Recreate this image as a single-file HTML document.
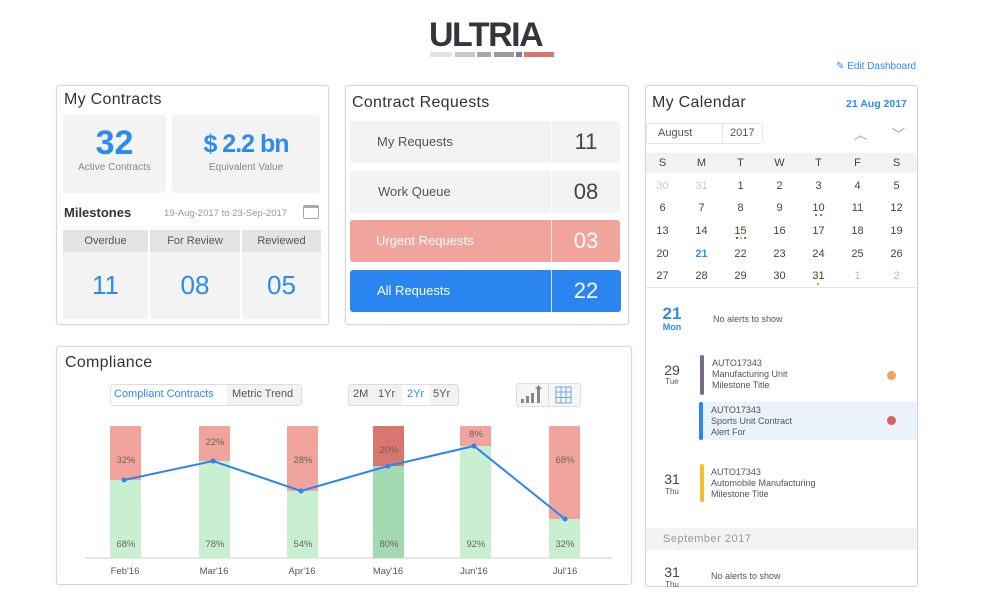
<!DOCTYPE html>
<html><head><meta charset="utf-8"><style>
*{box-sizing:border-box;margin:0;padding:0}
body{width:984px;height:608px;background:#fff;position:relative;font-family:"Liberation Sans",sans-serif;color:#444;overflow:hidden}
.a{position:absolute}
.panel{position:absolute;border:1px solid #d4d6da;border-radius:3px;background:#fff;box-shadow:0 0 2px rgba(0,0,0,.08)}
.t{position:absolute;font-size:16px;color:#333;letter-spacing:.3px}
.tile{position:absolute;background:#f3f3f3;border-radius:3px}
.c{text-align:center}
.blue{color:#2b8cf0}
.cal td{text-align:center;font-size:11px;color:#444;height:22.6px;width:39px;padding:0}
.small{font-size:9px;color:#555;line-height:11px}
</style></head><body>

<div class="a" style="left:429px;top:18px;font-size:34px;font-weight:bold;color:#33363d;letter-spacing:-1.5px;line-height:34px">ULTRIA</div>
<div class="a" style="left:430px;top:52px;width:22px;height:5px;background:#e3e3e3"></div>
<div class="a" style="left:455px;top:52px;width:20px;height:5px;background:#c8c8c8"></div>
<div class="a" style="left:477px;top:52px;width:14px;height:5px;background:#a8a8a8"></div>
<div class="a" style="left:494px;top:52px;width:20px;height:5px;background:#9a9aa0"></div>
<div class="a" style="left:516px;top:52px;width:6px;height:5px;background:#80808a"></div>
<div class="a" style="left:524px;top:52px;width:30px;height:5px;background:#d9736d"></div>
<div class="a" style="left:836px;top:61px;font-size:10px;color:#2b8cf0">✎ Edit Dashboard</div>

<!-- My Contracts -->
<div class="panel" style="left:56px;top:85px;width:273px;height:240px"></div>
<div class="t" style="left:64px;top:91px">My Contracts</div>
<div class="tile" style="left:63px;top:115px;width:103px;height:78px"></div>
<div class="tile" style="left:172px;top:115px;width:148px;height:78px"></div>
<div class="a c blue" style="left:63px;top:124px;width:103px;font-size:34px;font-weight:bold">32</div>
<div class="a c" style="left:63px;top:162px;width:103px;font-size:10px;color:#888">Active Contracts</div>
<div class="a c blue" style="left:172px;top:130px;width:148px;font-size:25px;font-weight:bold;letter-spacing:-1px">$ 2.2 bn</div>
<div class="a c" style="left:172px;top:162px;width:148px;font-size:10px;color:#888">Equivalent Value</div>
<div class="a" style="left:64px;top:205px;font-size:13px;color:#333;font-weight:bold">Milestones</div>
<div class="a" style="left:164px;top:208px;font-size:9.5px;color:#999">19-Aug-2017 to 23-Sep-2017</div>
<div class="a" style="left:303px;top:205px;width:16px;height:14px;border:1px solid #aaa;border-radius:2px;border-top-width:3px"></div>
<div class="a" style="left:63px;top:230px;width:85px;height:22px;background:#e4e4e4"></div>
<div class="a" style="left:150px;top:230px;width:90px;height:22px;background:#e4e4e4"></div>
<div class="a" style="left:242px;top:230px;width:79px;height:22px;background:#e4e4e4"></div>
<div class="a" style="left:63px;top:252px;width:85px;height:67px;background:#f3f3f3"></div>
<div class="a" style="left:150px;top:252px;width:90px;height:67px;background:#f3f3f3"></div>
<div class="a" style="left:242px;top:252px;width:79px;height:67px;background:#f3f3f3"></div>
<div class="a c" style="left:63px;top:235px;width:85px;font-size:11px;color:#555">Overdue</div>
<div class="a c" style="left:150px;top:235px;width:90px;font-size:11px;color:#555">For Review</div>
<div class="a c" style="left:242px;top:235px;width:79px;font-size:11px;color:#555">Reviewed</div>
<div class="a c blue" style="left:63px;top:270px;width:85px;font-size:26px">11</div>
<div class="a c blue" style="left:150px;top:270px;width:90px;font-size:26px">08</div>
<div class="a c blue" style="left:242px;top:270px;width:79px;font-size:26px">05</div>

<!-- Contract Requests -->
<div class="panel" style="left:345px;top:85px;width:284px;height:240px"></div>
<div class="t" style="left:352px;top:94px">Contract Requests</div>
<div class="tile" style="left:350px;top:121px;width:270px;height:42px"></div>
<div class="tile" style="left:350px;top:171px;width:270px;height:42px"></div>
<div class="tile" style="left:350px;top:220px;width:270px;height:42px;background:#f0a49c"></div>
<div class="tile" style="left:350px;top:270px;width:271px;height:42px;background:#2b85f0"></div>
<div class="a" style="left:551px;top:121px;width:1px;height:191px;background:rgba(255,255,255,.8)"></div>
<div class="a" style="left:377px;top:134px;font-size:13px;color:#555">My Requests</div>
<div class="a" style="left:378px;top:184px;font-size:13px;color:#555">Work Queue</div>
<div class="a" style="left:376px;top:233px;font-size:13px;color:#fff">Urgent Requests</div>
<div class="a" style="left:377px;top:283px;font-size:13px;color:#fff">All Requests</div>
<div class="a c" style="left:552px;top:129px;width:68px;font-size:22px;color:#444">11</div>
<div class="a c" style="left:552px;top:179px;width:68px;font-size:22px;color:#444">08</div>
<div class="a c" style="left:552px;top:228px;width:68px;font-size:22px;color:#fff">03</div>
<div class="a c" style="left:552px;top:278px;width:68px;font-size:22px;color:#fff">22</div>

<!-- Calendar -->
<div class="panel" style="left:645px;top:85px;width:273px;height:502px"></div>
<div class="t" style="left:652px;top:94px">My Calendar</div>
<div class="a blue" style="left:846px;top:98px;font-size:10.5px;font-weight:bold">21 Aug 2017</div>
<div class="a" style="left:646px;top:123px;width:117px;height:21px;border:1px solid #e6e6e6;border-radius:3px"></div>
<div class="a" style="left:722px;top:124px;width:1px;height:19px;background:#e6e6e6"></div>
<div class="a" style="left:658px;top:127px;font-size:11px;color:#555">August</div>
<div class="a" style="left:730px;top:127px;font-size:11px;color:#555">2017</div>
<div class="a" style="left:854px;top:124px;font-size:13px;color:#999">︿</div>
<div class="a" style="left:892px;top:124px;font-size:13px;color:#999">﹀</div>
<div class="a" style="left:646px;top:153px;width:271px;height:20px;background:#f2f2f2"></div>
<table class="a cal" style="left:643px;top:152px;border-collapse:collapse">
<tr><td style="height:21px">S</td><td>M</td><td>T</td><td>W</td><td>T</td><td>F</td><td>S</td></tr>
<tr><td style="color:#ccc">30</td><td style="color:#ccc">31</td><td>1</td><td>2</td><td>3</td><td>4</td><td>5</td></tr>
<tr><td>6</td><td>7</td><td>8</td><td>9</td><td>10</td><td>11</td><td>12</td></tr>
<tr><td>13</td><td>14</td><td>15</td><td>16</td><td>17</td><td>18</td><td>19</td></tr>
<tr><td>20</td><td style="color:#2b8cf0;font-weight:bold">21</td><td>22</td><td>23</td><td>24</td><td>25</td><td>26</td></tr>
<tr><td>27</td><td>28</td><td>29</td><td>30</td><td>31</td><td style="color:#bbb">1</td><td style="color:#bbb">2</td></tr>
</table>
<div class="a" style="left:815px;top:214px;width:7px;height:2px;border-left:2px solid #2b8cf0;border-right:2px solid #2b8cf0"></div>
<div class="a" style="left:736px;top:237px;width:10px;height:2px;background:linear-gradient(90deg,#666 0 2px,#fff 2px 4px,#f0b400 4px 6px,#fff 6px 8px,#2b8cf0 8px)"></div>
<div class="a" style="left:817px;top:283px;width:2px;height:2px;background:#f0b400"></div>
<div class="a" style="left:646px;top:287px;width:271px;height:1px;background:#e6e6e6"></div>
<div class="a c blue" style="left:658px;top:305px;width:28px;font-size:17px;font-weight:bold;line-height:18px">21</div>
<div class="a c blue" style="left:658px;top:322px;width:28px;font-size:9px;font-weight:bold">Mon</div>
<div class="a" style="left:713px;top:314px;font-size:9px;color:#555">No alerts to show</div>
<div class="a c" style="left:658px;top:362px;width:28px;font-size:14px;color:#444">29</div>
<div class="a c" style="left:658px;top:377px;width:28px;font-size:8px;color:#555">Tue</div>
<div class="a" style="left:700px;top:355px;width:4px;height:40px;background:#7b6b86;border-radius:2px"></div>
<div class="a small" style="left:712px;top:358px">AUTO17343<br>Manufacturing Unit<br>Milestone Title</div>
<div class="a" style="left:887px;top:371px;width:9px;height:9px;border-radius:50%;background:#f2a45e"></div>
<div class="a" style="left:699px;top:402px;width:218px;height:38px;background:#eaf2fb"></div>
<div class="a" style="left:699px;top:402px;width:4px;height:38px;background:#2b85f0;border-radius:2px"></div>
<div class="a small" style="left:711px;top:405px">AUTO17343<br>Sports Unit Contract<br>Alert For</div>
<div class="a" style="left:887px;top:416px;width:9px;height:9px;border-radius:50%;background:#d9635b"></div>
<div class="a c" style="left:658px;top:471px;width:28px;font-size:14px;color:#444">31</div>
<div class="a c" style="left:658px;top:487px;width:28px;font-size:8px;color:#555">Thu</div>
<div class="a" style="left:700px;top:464px;width:4px;height:38px;background:#f0c030;border-radius:2px"></div>
<div class="a small" style="left:711px;top:467px">AUTO17343<br>Automobile Manufacturing<br>Milestone Title</div>
<div class="a" style="left:646px;top:528px;width:271px;height:22px;background:#f3f3f3"></div>
<div class="a" style="left:663px;top:533px;font-size:11px;color:#999;letter-spacing:.5px">September 2017</div>
<div class="a c" style="left:658px;top:564px;width:28px;font-size:14px;color:#444">31</div>
<div class="a c" style="left:658px;top:580px;width:28px;font-size:8px;color:#555">Thu</div>
<div class="a" style="left:711px;top:571px;font-size:9px;color:#555">No alerts to show</div>
<div class="a" style="left:640px;top:588px;width:290px;height:20px;background:#fff"></div>

<!-- Compliance -->
<div class="panel" style="left:56px;top:346px;width:576px;height:239px"></div>
<div class="t" style="left:65px;top:354px">Compliance</div>
<div class="a" style="left:110px;top:384px;width:192px;height:22px;border:1px solid #ddd;border-radius:3px;background:#fff"></div>
<div class="a" style="left:227px;top:385px;width:74px;height:20px;background:#f2f2f2"></div>
<div class="a blue" style="left:114px;top:388px;font-size:11px">Compliant Contracts</div>
<div class="a" style="left:232px;top:388px;font-size:11px;color:#555">Metric Trend</div>
<div class="a" style="left:348px;top:384px;width:111px;height:22px;border:1px solid #ddd;border-radius:3px;background:#f2f2f2"></div>
<div class="a" style="left:402px;top:385px;width:28px;height:20px;background:#fff"></div>
<div class="a" style="left:353px;top:388px;font-size:11px;color:#555">2M</div>
<div class="a" style="left:378px;top:388px;font-size:11px;color:#555">1Yr</div>
<div class="a blue" style="left:407px;top:388px;font-size:11px">2Yr</div>
<div class="a" style="left:433px;top:388px;font-size:11px;color:#555">5Yr</div>
<div class="a" style="left:516px;top:383px;width:65px;height:24px;border:1px solid #ddd;border-radius:3px;background:#f6f6f6"></div>
<div class="a" style="left:548px;top:384px;width:1px;height:22px;background:#ddd"></div>
<svg class="a" style="left:516px;top:383px" width="65" height="24">
<g fill="#888"><rect x="5" y="16" width="3" height="4"/><rect x="10" y="13" width="3" height="7"/><rect x="15" y="10" width="3" height="10"/><rect x="21" y="6" width="3" height="14"/><path d="M22.5 2 L26 6 L19 6Z"/></g>
<g stroke="#6aa6f0" fill="none" stroke-width="1"><rect x="40" y="4" width="15" height="16"/><line x1="45" y1="4" x2="45" y2="20"/><line x1="50" y1="4" x2="50" y2="20"/><line x1="40" y1="9" x2="55" y2="9"/><line x1="40" y1="14.5" x2="55" y2="14.5"/></g>
</svg>
<svg class="a" style="left:0;top:0" width="640" height="600">
<line x1="85" y1="558" x2="612" y2="558" stroke="#ccc"/>
<g>
<rect x="110" y="426" width="31" height="54" fill="#f0a49c"/><rect x="110" y="480" width="31" height="78" fill="#c8efd0"/>
<rect x="199" y="426" width="31" height="35" fill="#f0a49c"/><rect x="199" y="461" width="31" height="97" fill="#c8efd0"/>
<rect x="287" y="426" width="31" height="65" fill="#f0a49c"/><rect x="287" y="491" width="31" height="67" fill="#c8efd0"/>
<rect x="373" y="426" width="31" height="40" fill="#d9766f"/><rect x="373" y="466" width="31" height="92" fill="#a3d9b1"/>
<rect x="460" y="426" width="31" height="20" fill="#f0a49c"/><rect x="460" y="446" width="31" height="112" fill="#c8efd0"/>
<rect x="549" y="426" width="31" height="93" fill="#f0a49c"/><rect x="549" y="519" width="31" height="39" fill="#c8efd0"/>
</g>
<g font-size="9.5" fill="#666" text-anchor="middle" font-family="Liberation Sans">
<text x="126" y="463">32%</text><text x="215" y="445">22%</text><text x="303" y="463">28%</text><text x="389" y="453">20%</text><text x="476" y="437">8%</text><text x="565" y="463">68%</text>
<text x="126" y="547">68%</text><text x="215" y="547">78%</text><text x="303" y="547">54%</text><text x="389" y="547">80%</text><text x="476" y="547">92%</text><text x="565" y="547">32%</text>
</g>
<polyline points="124,480 213,461 301,491 388,466 474,446 565,519" fill="none" stroke="#2b85f0" stroke-width="2"/>
<g fill="#2b85f0"><circle cx="124" cy="480" r="2.5"/><circle cx="213" cy="461" r="2.5"/><circle cx="301" cy="491" r="2.5"/><circle cx="388" cy="466" r="2.5"/><circle cx="474" cy="446" r="2.5"/><circle cx="565" cy="519" r="2.5"/></g>
<g font-size="9.5" fill="#555" text-anchor="middle" font-family="Liberation Sans">
<text x="125" y="574">Feb'16</text><text x="214" y="574">Mar'16</text><text x="302" y="574">Apr'16</text><text x="388" y="574">May'16</text><text x="474" y="574">Jun'16</text><text x="565" y="574">Jul'16</text>
</g>
</svg>
</body></html>
